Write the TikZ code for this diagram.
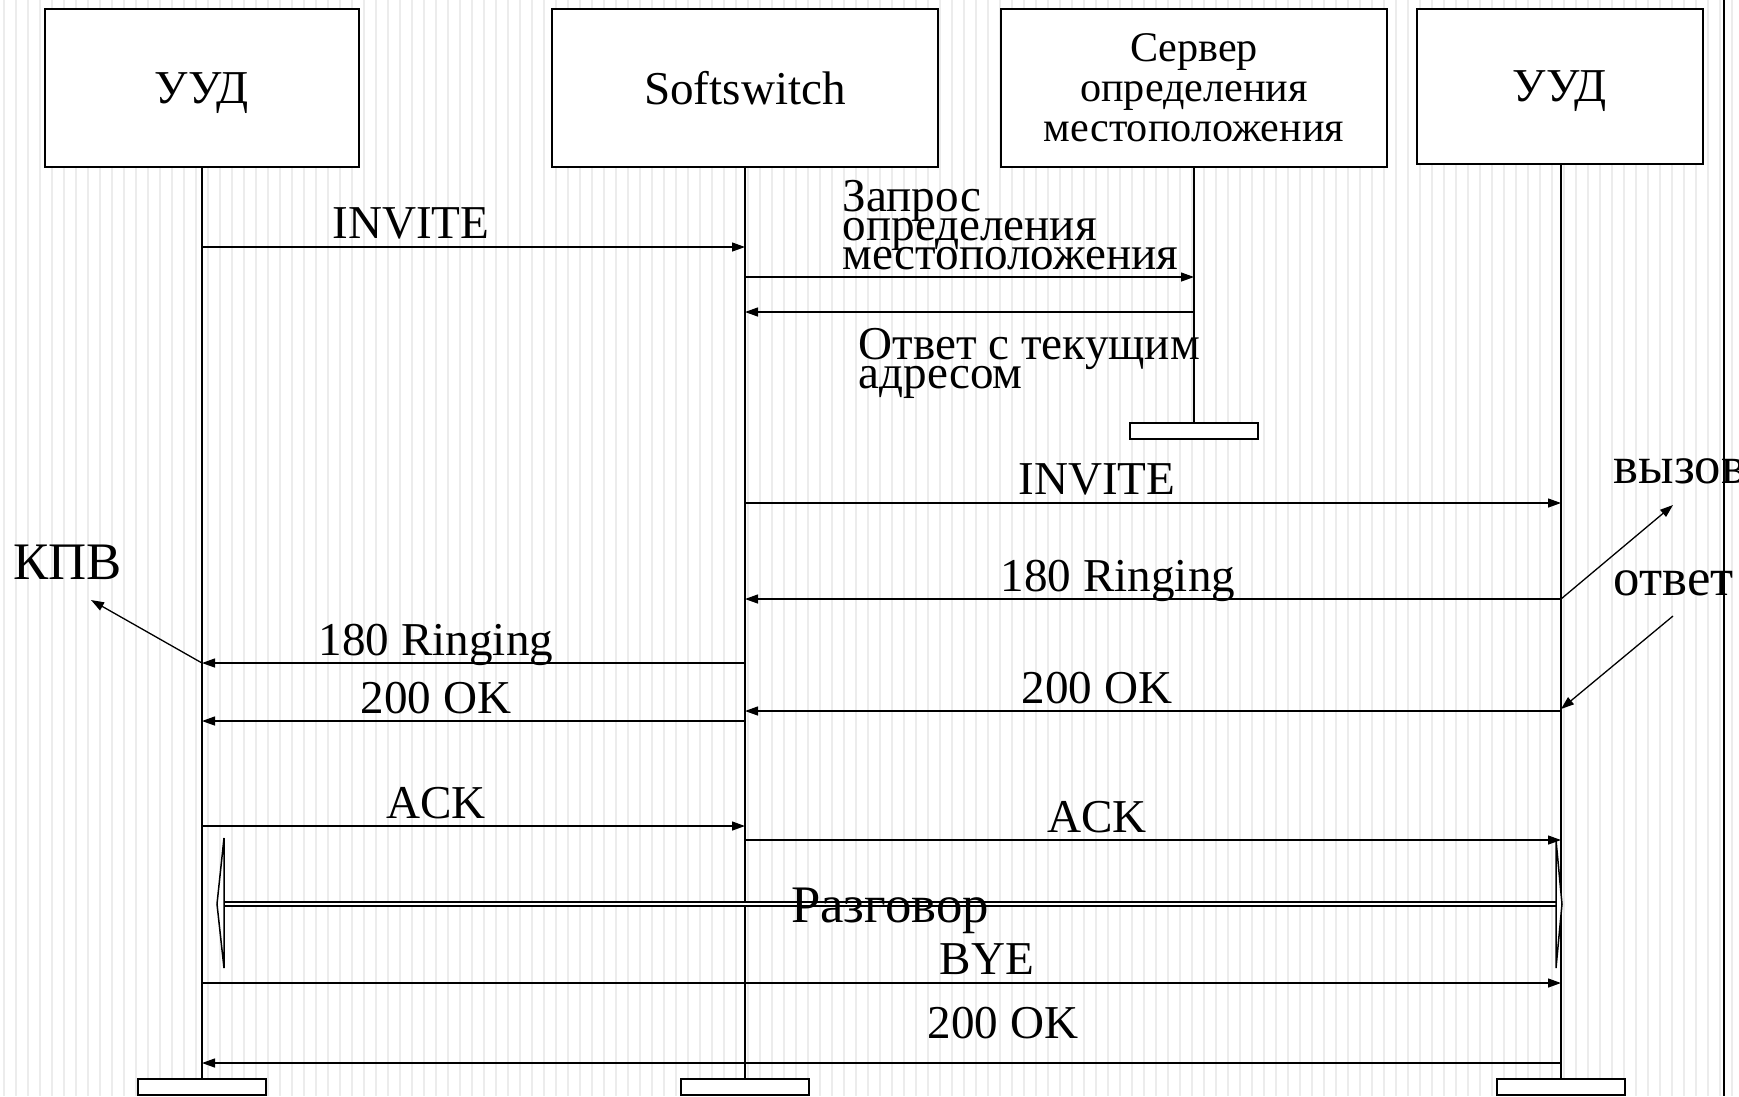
\documentclass[tikz,border=0pt]{standalone}
\usepackage{fontspec}
\setmainfont{Liberation Serif}
\usetikzlibrary{arrows.meta}
\begin{document}
\begin{tikzpicture}[x=0.01cm,y=-0.01cm,
  every node/.style={font={\fontsize{13.4pt}{8.2pt}\selectfont\lineskiplimit-100pt}},
  actor/.style={draw,fill=white,line width=0.02cm,minimum height=1.58cm,inner sep=0pt,text depth=0pt},
  stopbox/.style={draw,fill=white,line width=0.02cm,minimum width=1.28cm,minimum height=0.16cm,inner sep=0pt},
  life/.style={line width=0.02cm},
  msg/.style={line width=0.013cm,-{Triangle[length=0.13cm,width=0.09cm]}},
  lbl/.style={inner sep=0pt,anchor=base},
  big/.style={font=\fontsize{15pt}{15pt}\selectfont},
  stripe/.style={gray!15,line width=0.025cm}]
\useasboundingbox (0,0) rectangle (1739,1096);
\foreach \sx in {4,16,...,1736} \draw[stripe] (\sx,0) -- (\sx,1096);
\draw[line width=0.02cm] (1724,0) -- (1724,1096);
% participants
\node[actor,minimum width=3.14cm] (u1) at (202,88) {УУД};
\node[actor,minimum width=3.85cm] (ss) at (745,88) {Softswitch};
\node[actor,minimum width=3.85cm,align=center,text depth=,font={\fontsize{12pt}{11.4pt}\selectfont}] (srv) at (1194,88) {Сервер\\определения\\местоположения};
\node[actor,minimum width=2.85cm,minimum height=1.55cm] (u4) at (1560,86.5) {УУД};
\node[stopbox] (e1) at (202,1087) {};
\node[stopbox] (e2) at (745,1087) {};
\node[stopbox] (e3) at (1194,431) {};
\node[stopbox] (e4) at (1561,1087) {};
\draw[life] (u1) -- (e1);
\draw[life] (ss) -- (e2);
\draw[life] (srv) -- (e3);
\draw[life] (u4.south -| e4) -- (e4);
% messages
\draw[msg] (u1 |- 0,247) -- (ss |- 0,247);
\node[lbl] (l1) at (411,238) {INVITE};
\draw[msg] (ss |- 0,277) -- (srv |- 0,277);
\node[lbl,anchor=base west,align=left] (l2) at (842,269) {Запрос\\определения\\местоположения};
\draw[msg] (srv |- 0,312) -- (ss |- 0,312);
\node[lbl,anchor=base west,align=left] (l3) at (858,388) {Ответ с текущим\\адресом};
\draw[msg] (ss |- 0,503) -- (e4 |- 0,503);
\node[lbl] (l4) at (1097,494) {INVITE};
\draw[msg] (e4 |- 0,599) -- (ss |- 0,599);
\node[lbl] (l5) at (1118,591) {180 Ringing};
\draw[msg] (ss |- 0,663) -- (u1 |- 0,663);
\node[lbl] (l6) at (436,655) {180 Ringing};
\draw[msg] (e4 |- 0,711) -- (ss |- 0,711);
\node[lbl] (l7) at (1097,703) {200 OK};
\draw[msg] (ss |- 0,721) -- (u1 |- 0,721);
\node[lbl] (l8) at (436,713) {200 OK};
\draw[msg] (u1 |- 0,826) -- (ss |- 0,826);
\node[lbl] (l9) at (436,818) {ACK};
\draw[msg] (ss |- 0,840) -- (e4 |- 0,840);
\node[lbl] (l10) at (1097,832) {ACK};
% conversation
\draw[double,line width=0.014cm,double distance=0.025cm] (224,904) -- (1556,904);
\draw[fill=white,line width=0.015cm] (224,838) -- (217,904) -- (224,968) -- cycle;
\draw[fill=white,line width=0.015cm] (1556,840) -- (1562,904) -- (1556,968) -- cycle;
\node[lbl,big] (talk) at (890,922) {Разговор};
\draw[msg] (u1 |- 0,983) -- (e4 |- 0,983);
\node[lbl] (l11) at (987,974) {BYE};
\draw[msg] (e4 |- 0,1063) -- (u1 |- 0,1063);
\node[lbl] (l12) at (1003,1038) {200 OK};
% side notes
\node[lbl,big,anchor=base west] (kpv) at (13,579) {КПВ};
\coordinate (kpvtip) at (91,600);
\draw[msg] (u1 |- 0,663) -- (kpvtip);
\node[lbl,big,anchor=base west] (call) at (1613,483) {вызов};
\coordinate (calltip) at (1673,505);
\draw[msg] (e4 |- 0,599) -- (calltip);
\node[lbl,big,anchor=base west] (ans) at (1613,595) {ответ};
\coordinate (anstail) at (1673,616);
\draw[msg] (anstail) -- (e4 |- 0,709);
\end{tikzpicture}
\end{document}
